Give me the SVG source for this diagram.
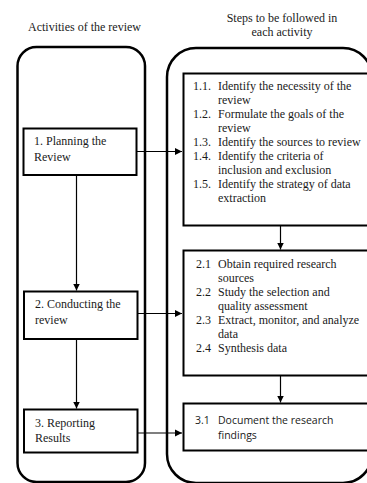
<svg xmlns="http://www.w3.org/2000/svg" width="367" height="483" viewBox="0 0 367 483">
<defs>
<marker id="ah" markerWidth="8" markerHeight="8" refX="7" refY="4" orient="auto" markerUnits="userSpaceOnUse">
<path d="M0,0.5 L7,4 L0,7.5 Z" fill="#000"/>
</marker>
</defs>
<style>
.t{font-family:"Liberation Serif","Times New Roman",serif;font-size:12px;fill:#1a1a1a}
.s{font-family:"Open Sans","Liberation Sans",sans-serif;font-size:10.5px;fill:#1a1a1a}
.lane{fill:none;stroke:#000;stroke-width:2.5}
.box{fill:#fff;stroke:#000;stroke-width:2}
.c{fill:none;stroke:#000;stroke-width:1.2;marker-end:url(#ah)}
</style>
<rect width="367" height="483" fill="#fff"/>
<g id="headers">
<text class="t" x="84.5" y="31" text-anchor="middle">Activities of the review</text>
<text class="t" x="282" y="22" text-anchor="middle">Steps to be followed in</text>
<text class="t" x="282" y="36" text-anchor="middle">each activity</text>
</g>
<g id="lane-left"><rect class="lane" x="17.5" y="47" width="127.5" height="435" rx="19"/></g>
<g id="lane-right"><rect class="lane" x="167" y="48" width="205" height="435" rx="29"/></g>
<g id="connectors">
<line class="c" x1="137" y1="151.5" x2="182" y2="151.5"/>
<line class="c" x1="76.5" y1="175" x2="76.5" y2="290.5"/>
<line class="c" x1="138" y1="313.5" x2="182" y2="313.5"/>
<line class="c" x1="76.5" y1="339" x2="76.5" y2="408.5"/>
<line class="c" x1="138" y1="433" x2="182" y2="433"/>
<line class="c" x1="280.5" y1="226" x2="280.5" y2="249.5"/>
<line class="c" x1="280.5" y1="376" x2="280.5" y2="402.5"/>
</g>
<g id="planning">
<rect class="box" x="23.5" y="128.5" width="113" height="46.5" stroke-width="1.8"/>
<text class="t" x="34" y="145">1. Planning the</text>
<text class="t" x="34" y="161">Review</text>
</g>
<g id="conducting">
<rect class="box" x="24" y="291.5" width="113.5" height="47.5" stroke-width="1.8"/>
<text class="t" x="35" y="308">2. Conducting the</text>
<text class="t" x="35" y="324">review</text>
</g>
<g id="reporting">
<rect class="box" x="24" y="409.5" width="113.5" height="43" stroke-width="1.8"/>
<text class="t" x="35" y="427">3. Reporting</text>
<text class="t" x="35" y="442">Results</text>
</g>
<g id="steps1">
<rect class="box" x="183.5" y="73.5" width="190" height="152"/>
<text class="t" x="193" y="90">1.1.</text><text class="t" x="218" y="90">Identify the necessity of the</text>
<text class="t" x="218" y="104">review</text>
<text class="t" x="193" y="118">1.2.</text><text class="t" x="218" y="118">Formulate the goals of the</text>
<text class="t" x="218" y="132">review</text>
<text class="t" x="193" y="146">1.3.</text><text class="t" x="218" y="146">Identify the sources to review</text>
<text class="t" x="193" y="160">1.4.</text><text class="t" x="218" y="160">Identify the criteria of</text>
<text class="t" x="218" y="174">inclusion and exclusion</text>
<text class="t" x="193" y="188">1.5.</text><text class="t" x="218" y="188">Identify the strategy of data</text>
<text class="t" x="218" y="202">extraction</text>
</g>
<g id="steps2">
<rect class="box" x="183.5" y="250.5" width="190" height="125"/>
<text class="t" x="196" y="268">2.1</text><text class="t" x="218" y="268">Obtain required research</text>
<text class="t" x="218" y="282">sources</text>
<text class="t" x="196" y="296">2.2</text><text class="t" x="218" y="296">Study the selection and</text>
<text class="t" x="218" y="310">quality assessment</text>
<text class="t" x="196" y="324">2.3</text><text class="t" x="218" y="324">Extract, monitor, and analyze</text>
<text class="t" x="218" y="338">data</text>
<text class="t" x="196" y="352">2.4</text><text class="t" x="218" y="352">Synthesis data</text>
</g>
<g id="steps3">
<rect class="box" x="183.5" y="403.5" width="190" height="47"/>
<text class="s" x="195" y="424">3.1</text><text class="s" x="218" y="424">Document the research</text>
<text class="s" x="218" y="439">findings</text>
</g>
</svg>
